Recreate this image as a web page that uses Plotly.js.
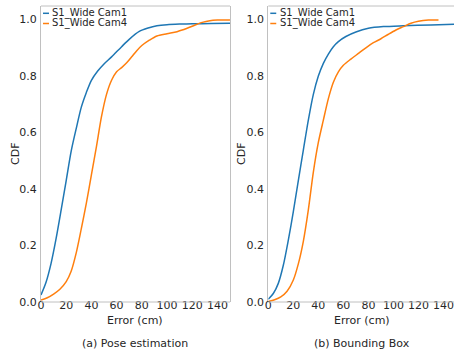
<!DOCTYPE html>
<html>
<head>
<meta charset="utf-8">
<script src="https://cdn.plot.ly/plotly-3.0.1.min.js"></script>
<style>
html,body{margin:0;padding:0;overflow:hidden;background:#fff;width:454px;height:352px;}
#chart{width:458px;height:352px;}
</style>
</head>
<body>
<div id="chart"></div>
<script>
// Panel (a) Pose estimation
const poseCam1X = [0, 4, 8, 12, 16, 20, 24, 28, 32, 36, 40, 45, 50, 56, 64, 70, 78, 85, 92, 100, 110, 120, 135, 150];
const poseCam1Y = [0.025, 0.07, 0.137, 0.225, 0.326, 0.43, 0.535, 0.615, 0.69, 0.742, 0.785, 0.818, 0.843, 0.868, 0.904, 0.93, 0.958, 0.970, 0.978, 0.982, 0.984, 0.985, 0.986, 0.987];
const poseCam4X = [0, 5, 10, 15, 20, 24, 28, 32, 36, 40, 44, 48, 52, 56, 60, 64, 68, 72, 76, 80, 86, 92, 100, 108, 116, 122, 128, 134, 140, 150];
const poseCam4Y = [0.007, 0.015, 0.028, 0.045, 0.072, 0.11, 0.175, 0.26, 0.35, 0.45, 0.55, 0.656, 0.735, 0.785, 0.815, 0.83, 0.847, 0.868, 0.89, 0.908, 0.927, 0.942, 0.95, 0.957, 0.969, 0.98, 0.99, 0.996, 0.998, 0.998];
// Panel (b) Bounding Box
const bboxCam1X = [0, 4, 8, 12, 16, 20, 24, 28, 32, 36, 40, 44, 48, 52, 56, 62, 70, 80, 92, 108, 130, 150];
const bboxCam1Y = [0.01, 0.03, 0.066, 0.13, 0.219, 0.32, 0.43, 0.538, 0.644, 0.735, 0.8, 0.845, 0.878, 0.904, 0.922, 0.94, 0.956, 0.969, 0.975, 0.978, 0.981, 0.984];
const bboxCam4X = [0, 5, 10, 15, 20, 24, 28, 32, 36, 40, 44, 48, 52, 56, 60, 66, 72, 78, 84, 90, 96, 102, 108, 114, 120, 128, 136];
const bboxCam4Y = [0.002, 0.008, 0.018, 0.038, 0.078, 0.135, 0.215, 0.326, 0.46, 0.565, 0.644, 0.72, 0.778, 0.815, 0.838, 0.86, 0.88, 0.9, 0.918, 0.932, 0.948, 0.963, 0.975, 0.987, 0.994, 0.998, 0.998];

const seriesNames = ["S1_Wide Cam1", "S1_Wide Cam4"];
const panelTitles = ["(a) Pose estimation", "(b) Bounding Box"];
const xTitle = "Error (cm)";
const yTitle = "CDF";
const xTicks = [0, 20, 40, 60, 80, 100, 120, 140];
const yTicks = [0, 0.2, 0.4, 0.6, 0.8, 1.0];

const BLUE = '#1f77b4', ORANGE = '#ff7f0e';
const FONT = 'DejaVu Sans, sans-serif';
const TXT = '#262626';
const SPINE = '#c0c0c0';
const PLOT_H = 296, PLOT_W = 415;

function tr(x, y, color, xa, ya, name) {
  return {x: x, y: y, type: 'scatter', mode: 'lines', name: name, xaxis: xa, yaxis: ya,
    line: {color: color, width: 1.5, shape: 'spline', smoothing: 0.8}, showlegend: false, hoverinfo: 'skip'};
}
const data = [
  tr(poseCam1X, poseCam1Y, BLUE, 'x', 'y', seriesNames[0]),
  tr(poseCam4X, poseCam4Y, ORANGE, 'x', 'y', seriesNames[1]),
  tr(bboxCam1X, bboxCam1Y, BLUE, 'x2', 'y2', seriesNames[0]),
  tr(bboxCam4X, bboxCam4Y, ORANGE, 'x2', 'y2', seriesNames[1])
];

function xax(dom) {
  return {domain: dom, anchor: 'free', position: 5 / PLOT_H, range: [0, 150], tickvals: xTicks, ticktext: xTicks.map(String),
    showgrid: false, zeroline: false, showline: false, ticks: '',
    tickfont: {family: FONT, size: 11, color: TXT}};
}
function yax(anchor) {
  return {domain: [0, 1], anchor: anchor, range: [0, 1.048], tickvals: yTicks, ticktext: yTicks.map(v => v.toFixed(1)),
    showgrid: false, zeroline: false, showline: true, mirror: true, linecolor: SPINE, linewidth: 1,
    ticks: 'outside', ticklen: 1, tickcolor: 'rgba(0,0,0,0)',
    tickfont: {family: FONT, size: 11, color: TXT}};
}

const annotations = [];
const shapes = [];
[['x', 'y', 0, 15], ['x2', 'y2', 1, 241]].forEach(([xa, ya, i, ytx]) => {
  // top and bottom spines
  [0, 1].forEach(v => shapes.push({type: 'line', xref: xa + ' domain', yref: ya + ' domain', x0: 0, x1: 1, y0: v, y1: v,
    line: {color: SPINE, width: 1}}));
  // y axis title
  annotations.push({text: yTitle, textangle: -90, xref: 'paper', yref: 'paper', x: (ytx - 41) / PLOT_W, y: 0.5,
    xanchor: 'center', yanchor: 'middle', showarrow: false, font: {family: FONT, size: 11, color: TXT}});
  // x axis title
  annotations.push({text: xTitle, xref: xa + ' domain', yref: 'paper', x: 0.5, y: (302 - 320.5) / PLOT_H,
    yanchor: 'middle', xanchor: 'center', showarrow: false, font: {family: FONT, size: 11, color: TXT}});
  // panel caption
  annotations.push({text: panelTitles[i], xref: xa + ' domain', yref: 'paper', x: 0.5, y: (302 - 343.5) / PLOT_H,
    yanchor: 'middle', xanchor: 'center', showarrow: false, font: {family: FONT, size: 11, color: TXT}});
  // legend entries
  [BLUE, ORANGE].forEach((c, k) => {
    const yy = 1 - (7.3 + 10.2 * k) / PLOT_H;
    shapes.push({type: 'line', xref: xa + ' domain', yref: ya + ' domain', x0: 2 / 189, x1: 8 / 189, y0: yy, y1: yy,
      line: {color: c, width: 1.5}});
    annotations.push({text: seriesNames[k], xref: xa + ' domain', yref: ya + ' domain', x: 10.5 / 189, y: yy,
      xanchor: 'left', yanchor: 'middle', showarrow: false, borderpad: 0, font: {family: FONT, size: 10, color: TXT}});
  });
});

const layout = {
  width: 458, height: 352,
  margin: {l: 41, r: 2, t: 6, b: 50},
  paper_bgcolor: '#fff', plot_bgcolor: '#fff',
  font: {family: FONT, color: TXT},
  xaxis: xax([0, 0.4554]),
  yaxis: yax('x'),
  xaxis2: xax([0.5477, 1]),
  yaxis2: yax('x2'),
  shapes: shapes,
  annotations: annotations,
  showlegend: false
};

Plotly.newPlot('chart', data, layout, {staticPlot: true, displayModeBar: false});
</script>
</body>
</html>
